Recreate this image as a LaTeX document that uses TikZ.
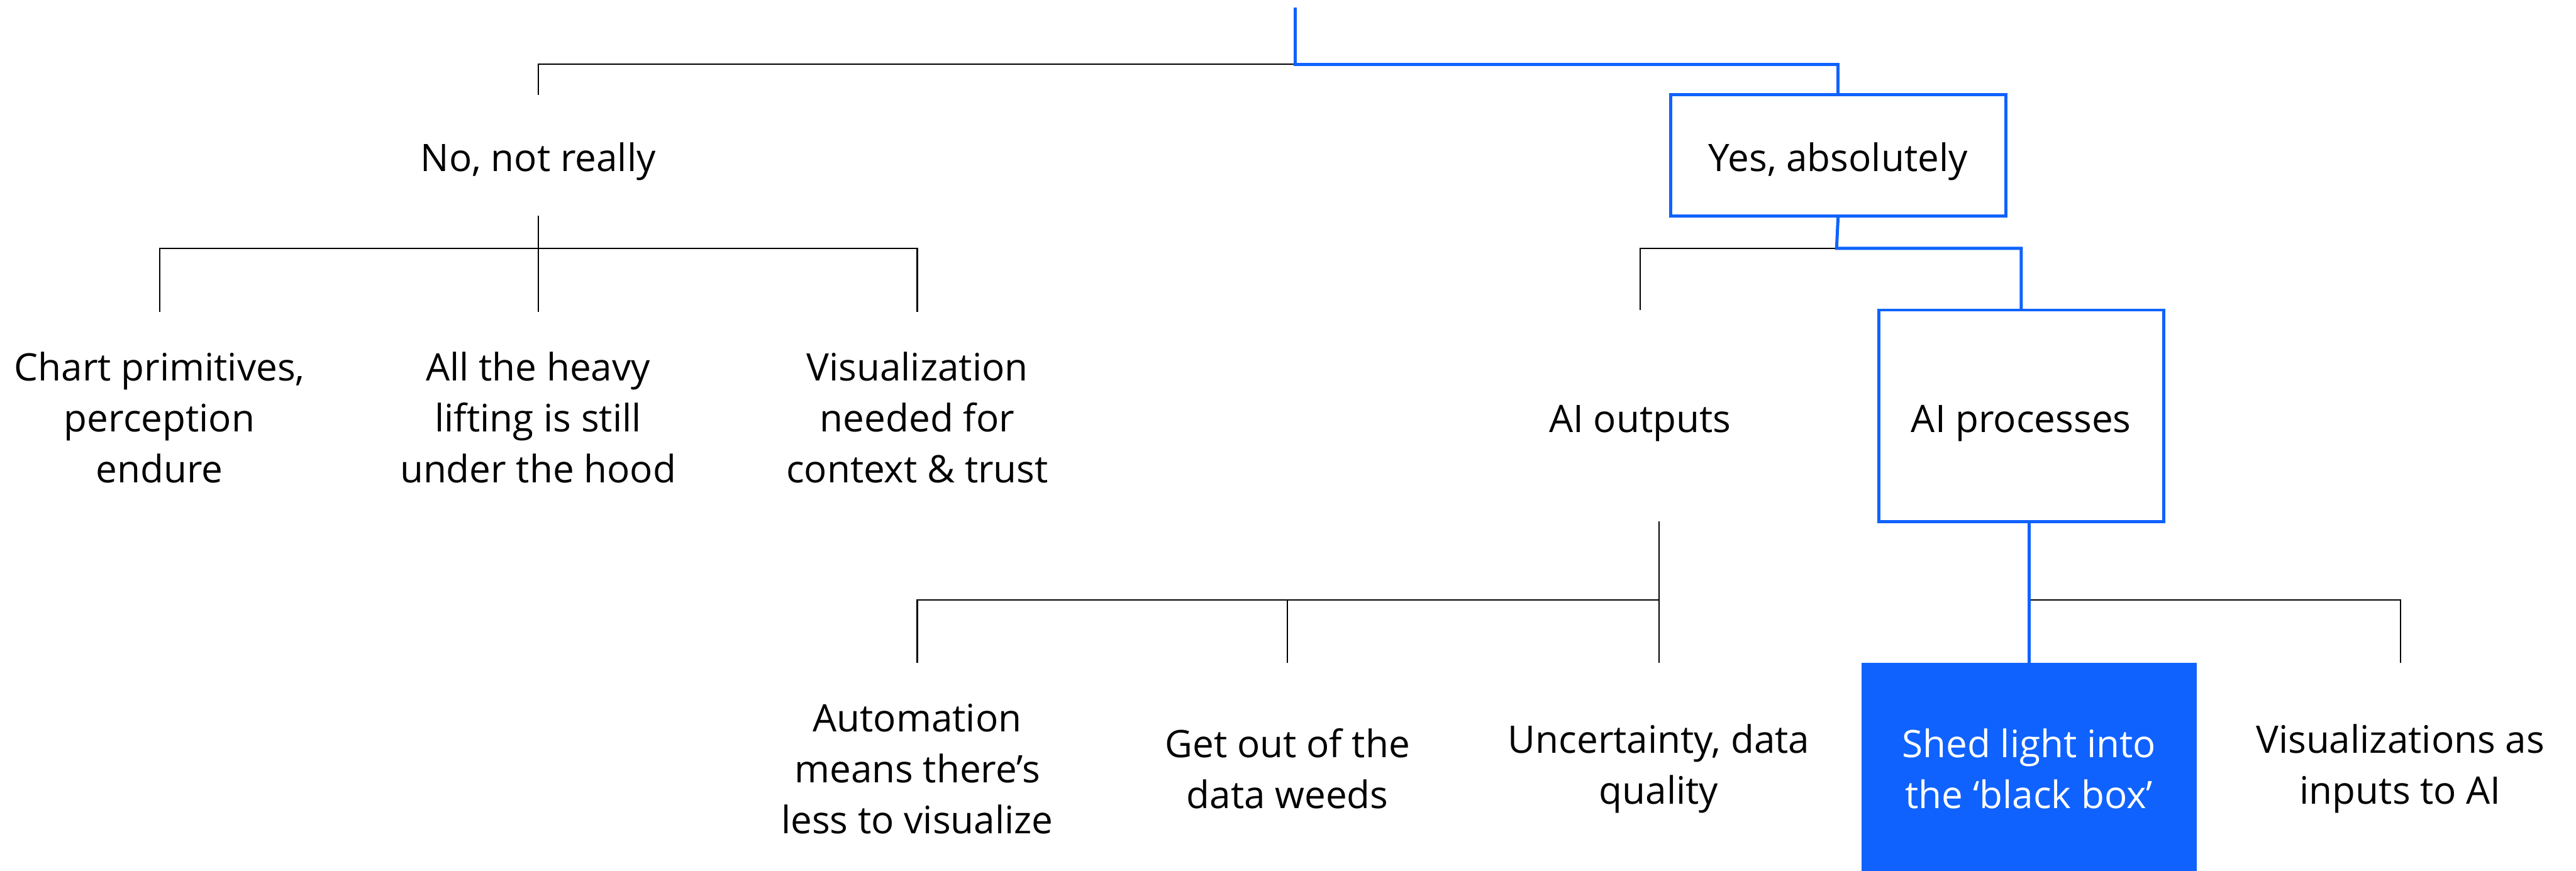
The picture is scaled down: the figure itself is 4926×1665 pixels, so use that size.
\documentclass[tikz,border=0pt]{standalone}
\usepackage{fontspec}
\setmainfont{Open Sans}
\definecolor{ibmblue}{HTML}{0F62FE}
\begin{document}
\begin{tikzpicture}[x=0.01cm,y=-0.01cm,
  every node/.style={font=\fontsize{20.6}{27.7}\selectfont, align=center, inner sep=0pt, outer sep=0pt},
  blk/.style={draw=black, line width=0.7pt},
  blu/.style={draw=ibmblue, line width=1.7pt},
  oneline/.style={text height=17.8pt, text depth=0pt},
  qbox/.style={minimum width=6.41cm, minimum height=2.31cm, oneline},
  cell/.style={minimum width=5.44cm, minimum height=4.04cm},
  pick/.style={blu},
  lit/.style={fill=ibmblue, text=white, minimum width=6.40cm, minimum height=4.04cm}]
\useasboundingbox (0,0) rectangle (4926,1665);

% question and first answers
\coordinate (root) at (2477,15);
\coordinate (j0) at (2477,123);
\node[qbox] (no) at (1029,297) {No, not really};
\node[qbox, pick] (yes) at (3515,297) {Yes, absolutely};

% answers under "No"
\node[cell] (c1) at (305,798) {Chart primitives,\\perception\\endure};
\node[cell] (c2) at (1029,798) {All the heavy\\lifting is still\\under the hood};
\node[cell] (c3) at (1754,798) {Visualization\\needed for\\context \& trust};

% answers under "Yes"
\node[cell, oneline] (aiout) at (3136,795) {AI outputs};
\node[cell, oneline, pick] (aiproc) at (3865,795) {AI processes};

% outcomes
\node[cell] (a1) at (1754,1470) {Automation\\means there’s\\less to visualize};
\node[cell] (a2) at (2462,1470) {Get out of the\\data weeds};
\node[cell] (a3) at (3172,1470) {Uncertainty, data\\quality};
\node[lit] (shed) at (3880,1470) {Shed light into\\the ‘black box’};
\node[cell] (vis) at (4590,1470) {Visualizations as\\inputs to AI};

% junctions
\coordinate (j1) at (1029,475);
\coordinate (j2) at (3512,475);
\coordinate (j3) at (3172,1147);
\coordinate (j4) at (3880,1147);

% connectors: plain branches
\draw[blk] (no.north) |- (j0);
\draw[blk] (no.south) -- (j1);
\draw[blk] (c1.north) |- (j1) -| (c3.north);
\draw[blk] (j1) -- (c2.north);
\draw[blk] (aiout.north) |- (j2);
\draw[blk] (j3 |- aiout.south) -- (a3.north);
\draw[blk] (a1.north) |- (j3);
\draw[blk] (a2.north) -- (a2.north |- j3);
\draw[blk] (j4) -| (vis.north);

% connectors: highlighted path
\draw[blu] (root) -- (j0) -| (yes.north);
\draw[blu] (yes.south) -- (j2) -| (aiproc.north);
\draw[blu] (shed.north |- aiproc.south) -- (shed.north);
\end{tikzpicture}
\end{document}
